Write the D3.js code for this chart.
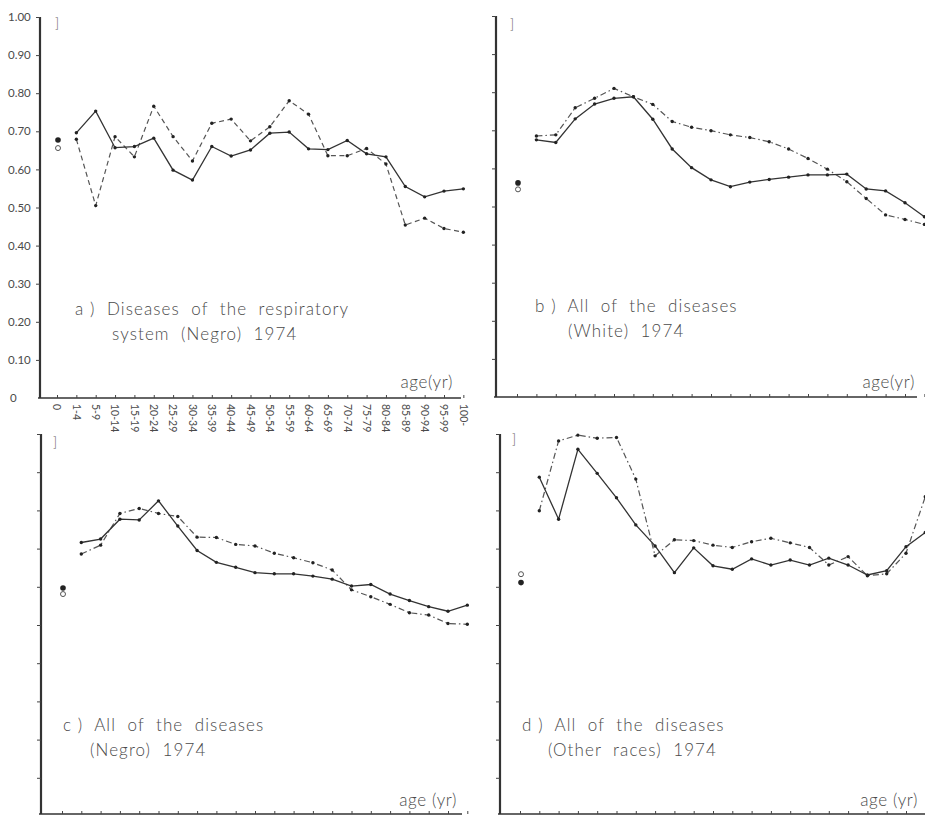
<!DOCTYPE html>
<html><head><meta charset="utf-8">
<script src="https://cdn.jsdelivr.net/npm/d3@7"></script>
<style>
html,body{margin:0;padding:0;background:#fff;}
svg{display:block;}
text{font-family:Lato,"Open Sans",sans-serif;fill:#4a4a4a;}
</style></head>
<body><svg id="chart" width="925" height="816"></svg>
<script>
// ---- data ----
const ages = ["0","1-4","5-9","10-14","15-19","20-24","25-29","30-34","35-39","40-44","45-49","50-54","55-59","60-64","65-69","70-74","75-79","80-84","85-89","90-94","95-99","100-"];
const yTicks = [0,0.1,0.2,0.3,0.4,0.5,0.6,0.7,0.8,0.9,1.0];

// a) Diseases of the respiratory system (Negro) 1974
const aSolid  = [0.696,0.753,0.657,0.660,0.682,0.598,0.572,0.660,0.635,0.651,0.695,0.698,0.654,0.652,0.676,0.641,0.633,0.555,0.528,0.543,0.549];
const aDashed = [0.679,0.505,0.686,0.633,0.766,0.686,0.622,0.721,0.732,0.675,0.712,0.780,0.745,0.636,0.636,0.655,0.614,0.454,0.472,0.445,0.435];
const aZero   = {filled:0.677, open:0.656};

// b) All of the diseases (White) 1974
const bSolid  = [0.675,0.668,0.730,0.769,0.784,0.788,0.729,0.651,0.602,0.570,0.552,0.564,0.571,0.577,0.583,0.583,0.585,0.546,0.541,0.510,0.473];
const bDashed = [0.685,0.688,0.759,0.784,0.810,0.788,0.768,0.723,0.708,0.699,0.688,0.681,0.670,0.651,0.626,0.598,0.565,0.521,0.478,0.466,0.453];
const bZero   = {filled:0.562, open:0.545};

// c) All of the diseases (Negro) 1974
const cSolid  = [0.716,0.725,0.777,0.775,0.825,0.759,0.695,0.664,0.651,0.637,0.634,0.634,0.628,0.620,0.602,0.606,0.581,0.564,0.548,0.536,0.552];
const cDashed = [0.686,0.709,0.792,0.805,0.792,0.784,0.730,0.729,0.711,0.707,0.688,0.676,0.663,0.644,0.592,0.574,0.554,0.532,0.526,0.504,0.502];
const cZero   = {filled:0.597, open:0.581};

// d) All of the diseases (Other races) 1974
const dSolid  = [0.887,0.777,0.960,0.897,0.833,0.762,0.707,0.637,0.702,0.655,0.646,0.673,0.657,0.670,0.657,0.675,0.657,0.631,0.642,0.705,0.742];
const dDashed = [0.799,0.982,0.997,0.989,0.991,0.882,0.681,0.723,0.721,0.709,0.703,0.718,0.727,0.715,0.703,0.657,0.679,0.629,0.634,0.688,0.836];
const dZero   = {filled:0.611, open:0.633};

const titles = {
  a:["a )  Diseases  of  the  respiratory","system  (Negro)  1974","age(yr)"],
  b:["b )  All  of  the  diseases","(White)  1974","age(yr)"],
  c:["c )  All  of  the  diseases","(Negro)  1974","age (yr)"],
  d:["d )  All  of  the  diseases","(Other  races)  1974","age (yr)"]
};

// ---- layout ----
const panels = [
  {k:"a", solid:aSolid, dashed:aDashed, zero:aZero, axisX:40, x0:57, step:19.35, yTop:17, yBot:398, xEnd:461, labels:true,
   t1:[75,315], t2:[112,340], tAge:[453,388], mark:[55,28], dash:"5,3.5"},
  {k:"b", solid:bSolid, dashed:bDashed, zero:bZero, axisX:496, x0:517, step:19.4, yTop:16, yBot:397, xEnd:917, labels:false,
   t1:[535,312], t2:[568,337], tAge:[915,388], mark:[510,29], dash:"6,3,1.5,3"},
  {k:"c", solid:cSolid, dashed:cDashed, zero:cZero, axisX:41, x0:62, step:19.3, yTop:434, yBot:816, xEnd:462, labels:false,
   t1:[63,731], t2:[90,756], tAge:[457,806], mark:[53,447], dash:"6,3,1.5,3"},
  {k:"d", solid:dSolid, dashed:dDashed, zero:dZero, axisX:500, x0:520, step:19.3, yTop:434, yBot:816, xEnd:925, labels:false,
   t1:[522,731], t2:[548,756], tAge:[918,806], mark:[512,444], dash:"6,3,1.5,3"}
];

const svg = d3.select("#chart");
svg.append("rect").attr("width",925).attr("height",816).attr("fill","#fff");

panels.forEach(p => {
  const g = svg.append("g");
  const x = d3.scalePoint().domain(ages).range([p.x0, p.x0 + p.step*(ages.length-1)]);
  const y = d3.scaleLinear().domain([0,1]).range([p.yBot, p.yTop]);
  const axisY = Math.min(p.yBot, 814);

  // y axis
  const ya = d3.axisLeft(y).tickValues(yTicks.slice(1)).tickSize(4).tickSizeOuter(0)
    .tickFormat(p.labels ? d3.format(".2f") : "");
  const yg = g.append("g").attr("transform",`translate(${p.axisX},0)`).call(ya);
  yg.select(".domain").attr("stroke","#333").attr("stroke-width",2.2);
  yg.selectAll(".tick line").attr("stroke","#444").attr("stroke-width",1);
  if (p.labels) {
    yg.selectAll(".tick text").attr("x",-32).attr("text-anchor","start")
      .style("font-size","11.5px").style("font-family","Lato,sans-serif").attr("fill","#555");
    g.append("text").attr("x",10).attr("y",y(0)+4).text("0").style("font-size","11.5px").attr("fill","#555");
  }
  yg.select(".domain").attr("d",`M0,${axisY}V${p.yTop}`);

  // x axis
  const xa = d3.axisTop(x).tickSize(3).tickSizeOuter(0).tickFormat("");
  const xg = g.append("g").attr("transform",`translate(0,${axisY})`).call(xa);
  xg.select(".domain").attr("d",`M${p.axisX-2},0H${p.xEnd}`).attr("stroke","#333").attr("stroke-width",1.6);
  xg.selectAll(".tick line").attr("stroke","#444");
  if (p.labels) {
    g.append("g").selectAll("text").data(ages).join("text")
      .attr("transform", d => `translate(${x(d)},${axisY+6}) rotate(90)`)
      .attr("dy","0.35em").attr("text-anchor","start")
      .style("font-size","10.5px").attr("fill","#555").text(d => d);
  }

  // lines
  const pts = arr => arr.map((v,i) => [ages[i+1], v]);
  const line = d3.line().x(d => x(d[0])).y(d => y(d[1]));
  g.append("path").datum(pts(p.dashed)).attr("d",line).attr("fill","none")
    .attr("stroke","#555").attr("stroke-width",1.2).attr("stroke-dasharray",p.dash);
  g.append("path").datum(pts(p.solid)).attr("d",line).attr("fill","none")
    .attr("stroke","#333").attr("stroke-width",1.3);
  [p.solid,p.dashed].forEach(s => {
    g.append("g").selectAll("circle").data(pts(s)).join("circle")
      .attr("cx",d=>x(d[0])).attr("cy",d=>y(d[1])).attr("r",1.7).attr("fill","#222");
  });
  // age 0 markers
  g.append("circle").attr("cx",x("0")+1).attr("cy",y(p.zero.filled)).attr("r",2.8).attr("fill","#222");
  g.append("circle").attr("cx",x("0")+1).attr("cy",y(p.zero.open)).attr("r",2.5).attr("fill","#fff").attr("stroke","#555").attr("stroke-width",1);

  // bracket mark
  g.append("text").attr("x",p.mark[0]).attr("y",p.mark[1]).text("]")
    .style("font-size","14px").style("font-weight","300").style("fill","#666");

  // titles
  const addT = (pos, txt, anchor, ls) => g.append("text").attr("x",pos[0]).attr("y",pos[1])
    .attr("text-anchor",anchor).text(txt)
    .style("font-size","17px").style("font-weight","300").style("letter-spacing",ls).style("white-space","pre");
  addT(p.t1, titles[p.k][0], "start", "1.1px");
  addT(p.t2, titles[p.k][1], "start", "1.1px");
  addT(p.tAge, titles[p.k][2], "end", "0.6px");
});
</script></body></html>
